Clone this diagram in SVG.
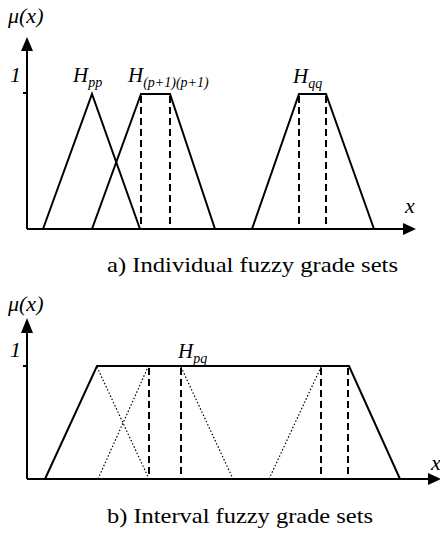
<svg xmlns="http://www.w3.org/2000/svg" width="440" height="540" viewBox="0 0 440 540">
<rect width="440" height="540" fill="#fff"/>
<g id="axes-a" stroke="#000" stroke-width="2" fill="none">
<line x1="27" y1="229" x2="405" y2="229"/>
<polygon points="403,223 416,229 403,235" fill="#000" stroke="none"/>
<line x1="27" y1="229" x2="27" y2="48"/>
<polygon points="21,51 27,37 33,51" fill="#000" stroke="none"/>
<line x1="23" y1="93" x2="27" y2="93"/>
</g>
<text x="8" y="23" font-size="22" style="font-family:'Liberation Serif',serif;font-style:italic">μ(x)</text>
<text x="10" y="82" font-size="22" style="font-family:'Liberation Serif',serif;font-style:italic">1</text>
<text x="405" y="213" font-size="22" style="font-family:'Liberation Serif',serif;font-style:italic">x</text>
<g id="Hpp">
<polyline points="43,229 92,94 140,229" stroke="#000" stroke-width="2" fill="none"/>
<text x="73" y="82" font-size="21" style="font-family:'Liberation Serif',serif;font-style:italic">H<tspan font-size="14" dy="5">pp</tspan></text>
</g>
<g id="Hp1">
<polyline points="92,229 141,94 170,94 215,229" stroke="#000" stroke-width="2" fill="none"/>
<g stroke="#000" stroke-width="2" stroke-dasharray="7,4">
<line x1="141" y1="96" x2="141" y2="229"/>
<line x1="170" y1="96" x2="170" y2="229"/>
</g>
<text x="128" y="82" font-size="21" style="font-family:'Liberation Serif',serif;font-style:italic">H<tspan font-size="14" dy="5">(p+1)(p+1)</tspan></text>
</g>
<g id="Hqq">
<polyline points="252,229 299,94 326,94 374,229" stroke="#000" stroke-width="2" fill="none"/>
<g stroke="#000" stroke-width="2" stroke-dasharray="7,4">
<line x1="299" y1="96" x2="299" y2="229"/>
<line x1="326" y1="96" x2="326" y2="229"/>
</g>
<text x="293" y="83" font-size="21" style="font-family:'Liberation Serif',serif;font-style:italic">H<tspan font-size="14" dy="5">qq</tspan></text>
</g>
<text x="107" y="272" font-size="22" style="font-family:'Liberation Serif',serif" textLength="291" lengthAdjust="spacingAndGlyphs">a) Individual fuzzy grade sets</text>
<g id="axes-b" stroke="#000" stroke-width="2" fill="none">
<line x1="27" y1="479" x2="430" y2="479"/>
<polygon points="428,473 441,479 428,485" fill="#000" stroke="none"/>
<line x1="27" y1="479" x2="27" y2="330"/>
<polygon points="21,333 27,318 33,333" fill="#000" stroke="none"/>
<line x1="23" y1="366" x2="27" y2="366"/>
</g>
<text x="8" y="311" font-size="22" style="font-family:'Liberation Serif',serif;font-style:italic">μ(x)</text>
<text x="10" y="357" font-size="22" style="font-family:'Liberation Serif',serif;font-style:italic">1</text>
<text x="431" y="470" font-size="22" style="font-family:'Liberation Serif',serif;font-style:italic">x</text>
<g id="Hpq">
<polyline points="45,479 97,366 349,366 400,479" stroke="#000" stroke-width="2" fill="none"/>
<g stroke="#000" stroke-width="2" stroke-dasharray="7,4">
<line x1="149" y1="368" x2="149" y2="479"/>
<line x1="181" y1="368" x2="181" y2="479"/>
<line x1="321" y1="368" x2="321" y2="479"/>
<line x1="348" y1="368" x2="348" y2="479"/>
</g>
<g stroke="#000" stroke-width="1.2" stroke-dasharray="1.5,2">
<line x1="97" y1="367" x2="149" y2="479"/>
<line x1="98" y1="479" x2="148" y2="367"/>
<line x1="181" y1="367" x2="233" y2="479"/>
<line x1="269" y1="479" x2="321" y2="367"/>
</g>
<text x="178" y="358" font-size="21" style="font-family:'Liberation Serif',serif;font-style:italic">H<tspan font-size="14" dy="5">pq</tspan></text>
</g>
<text x="107" y="523" font-size="22" style="font-family:'Liberation Serif',serif" textLength="266" lengthAdjust="spacingAndGlyphs">b) Interval fuzzy grade sets</text>
</svg>
